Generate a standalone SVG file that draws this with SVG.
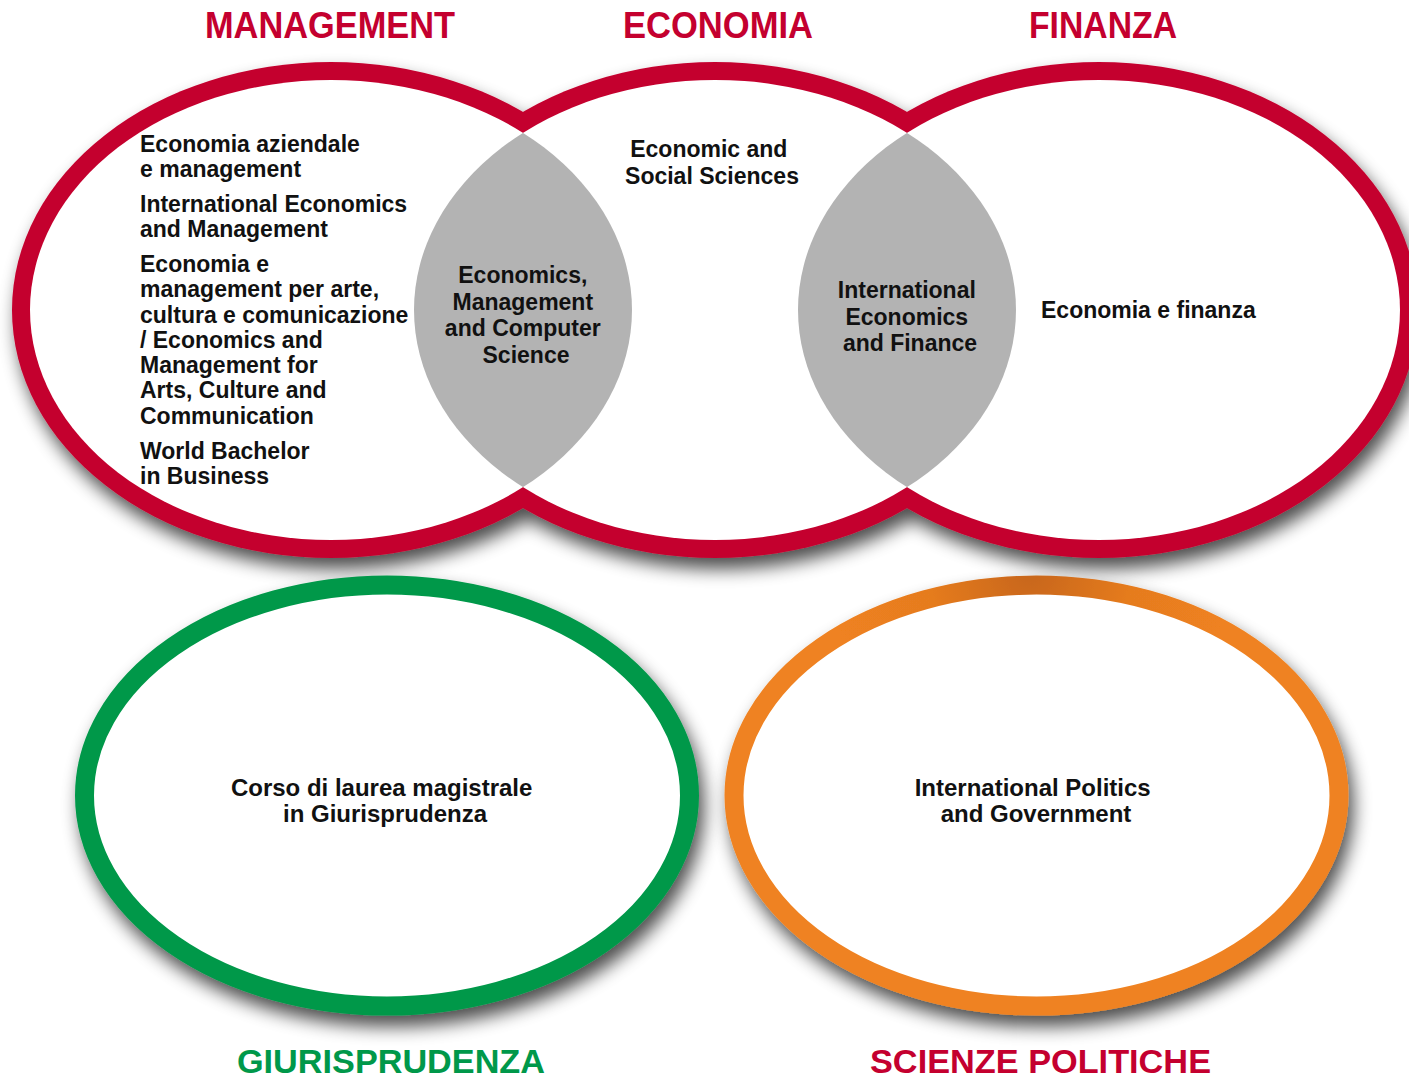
<svg xmlns="http://www.w3.org/2000/svg" width="1409" height="1080" viewBox="0 0 1409 1080">
  <style>
    .title { font-family: "Liberation Sans", Arial, sans-serif; font-weight: bold; font-size: 36px; }
    .title-low { font-size: 34px; }
    .red { fill: #c4002f; }
    .green { fill: #00984a; }
    .body { font-family: "Liberation Sans", Arial, sans-serif; font-weight: bold; font-size: 23px; fill: #111; }
    .big { font-size: 24px; }
    .mid { text-anchor: middle; }
    .white { fill: #ffffff; }
    .lens { fill: #b3b3b3; }
  </style>
  <defs>
    <filter id="shadow" x="-10%" y="-15%" width="125%" height="140%">
      <feGaussianBlur in="SourceAlpha" stdDeviation="9"/>
      <feOffset dx="5" dy="11" result="b"/>
      <feComponentTransfer><feFuncA type="linear" slope="0.7"/></feComponentTransfer>
      <feMerge><feMergeNode/><feMergeNode in="SourceGraphic"/></feMerge>
    </filter>
    <radialGradient id="orangeGrad" cx="1030" cy="572" r="200" gradientUnits="userSpaceOnUse">
      <stop offset="0" stop-color="#c7661a"/>
      <stop offset="0.5" stop-color="#e57b1f"/>
      <stop offset="1" stop-color="#ef8220"/>
    </radialGradient>
    <clipPath id="clipL"><ellipse cx="331" cy="310" rx="301" ry="230"/></clipPath>
    <clipPath id="clipR"><ellipse cx="1099" cy="310" rx="301" ry="230"/></clipPath>
  </defs>

  <rect width="1409" height="1080" fill="#ffffff"/>

  <!-- red rings -->
  <g id="red-rings" filter="url(#shadow)">
    <ellipse class="red" cx="331" cy="310" rx="319" ry="248"/>
    <ellipse class="red" cx="715" cy="310" rx="319" ry="248"/>
    <ellipse class="red" cx="1099" cy="310" rx="319" ry="248"/>
  </g>
  <g id="red-fills">
    <ellipse class="white" cx="331" cy="310" rx="301" ry="230"/>
    <ellipse class="white" cx="715" cy="310" rx="301" ry="230"/>
    <ellipse class="white" cx="1099" cy="310" rx="301" ry="230"/>
  </g>
  <g id="lenses">
    <ellipse class="lens" cx="715" cy="310" rx="301" ry="230" clip-path="url(#clipL)"/>
    <ellipse class="lens" cx="715" cy="310" rx="301" ry="230" clip-path="url(#clipR)"/>
  </g>

  <!-- bottom rings -->
  <g id="giurisprudenza-ring" filter="url(#shadow)">
    <ellipse cx="387" cy="795.5" rx="302.5" ry="210.5" fill="#ffffff" stroke="#00984a" stroke-width="19"/>
  </g>
  <g id="scienze-ring" filter="url(#shadow)">
    <ellipse cx="1036.5" cy="795.5" rx="302.5" ry="210.5" fill="#ffffff" stroke="url(#orangeGrad)" stroke-width="19"/>
  </g>

  <!-- titles -->
  <g id="title-management"><text class="title red" x="205" y="37.5" textLength="250" lengthAdjust="spacingAndGlyphs">MANAGEMENT</text></g>
  <g id="title-economia"><text class="title red" x="623" y="37.5" textLength="190" lengthAdjust="spacingAndGlyphs">ECONOMIA</text></g>
  <g id="title-finanza"><text class="title red" x="1029" y="37.5" textLength="148" lengthAdjust="spacingAndGlyphs">FINANZA</text></g>
  <g id="title-giurisprudenza"><text class="title title-low green" x="237" y="1073" textLength="308" lengthAdjust="spacingAndGlyphs">GIURISPRUDENZA</text></g>
  <g id="title-scienze"><text class="title title-low red" x="870" y="1073" textLength="341" lengthAdjust="spacingAndGlyphs">SCIENZE POLITICHE</text></g>

  <!-- node texts -->
  <g id="node-management">
    <text class="body" x="140">
      <tspan x="140" y="152">Economia aziendale</tspan>
      <tspan x="140" y="177">e management</tspan>
      <tspan x="140" y="212">International Economics</tspan>
      <tspan x="140" y="237">and Management</tspan>
      <tspan x="140" y="272">Economia e</tspan>
      <tspan x="140" y="297">management per arte,</tspan>
      <tspan x="140" y="322.5">cultura e comunicazione</tspan>
      <tspan x="140" y="347.5">/ Economics and</tspan>
      <tspan x="140" y="373">Management for</tspan>
      <tspan x="140" y="398">Arts, Culture and</tspan>
      <tspan x="140" y="423.5">Communication</tspan>
      <tspan x="140" y="458.5">World Bachelor</tspan>
      <tspan x="140" y="483.5">in Business</tspan>
    </text>
  </g>
  <g id="node-emcs">
    <text class="body mid">
      <tspan x="526" y="283">Economics,</tspan>
      <tspan x="526" y="310">Management</tspan>
      <tspan x="526" y="336">and Computer</tspan>
      <tspan x="526" y="362.5">Science</tspan>
    </text>
  </g>
  <g id="node-economia">
    <text class="body mid">
      <tspan x="712" y="157">Economic and</tspan>
      <tspan x="712" y="184">Social Sciences</tspan>
    </text>
  </g>
  <g id="node-ief">
    <text class="body mid">
      <tspan x="910" y="298">International</tspan>
      <tspan x="910" y="325">Economics</tspan>
      <tspan x="910" y="351">and Finance</tspan>
    </text>
  </g>
  <g id="node-finanza">
    <text class="body" x="1041" y="318">Economia e finanza</text>
  </g>
  <g id="node-giurisprudenza">
    <text class="body big mid">
      <tspan x="385" y="796">Corso di laurea magistrale</tspan>
      <tspan x="385" y="822">in Giurisprudenza</tspan>
    </text>
  </g>
  <g id="node-scienze">
    <text class="body big mid">
      <tspan x="1036" y="796">International Politics</tspan>
      <tspan x="1036" y="822">and Government</tspan>
    </text>
  </g>
  <g id="connectors"/>
</svg>
